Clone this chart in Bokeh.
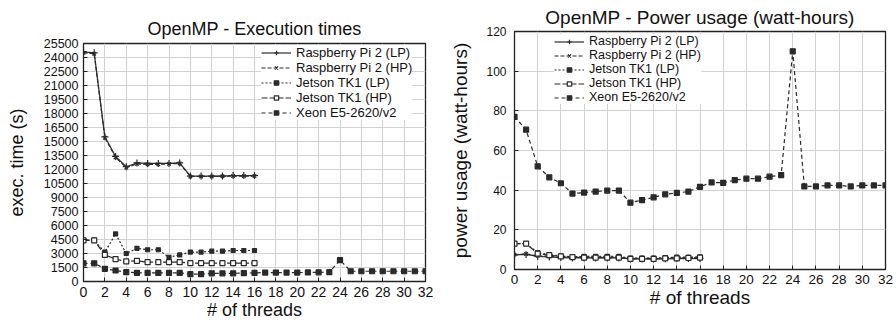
from bokeh.plotting import figure
from bokeh.layouts import row
from bokeh.models import FixedTicker, Legend, LegendItem, Range1d
from bokeh.embed import file_html
from bokeh.resources import INLINE

# ---------------- data ----------------
threads_all = list(range(0, 33))
threads_16 = list(range(0, 17))

x_ticks = list(range(0, 33, 2))
time_ticks = list(range(0, 25501, 1500))
power_ticks = list(range(0, 121, 20))

series_names = ["Raspberry Pi 2 (LP)", "Raspberry Pi 2 (HP)", "Jetson TK1 (LP)",
                "Jetson TK1 (HP)", "Xeon E5-2620/v2"]

# execution times (s)
time_rpi_lp = [24600, 24500, 15500, 13400, 12300, 12700, 12650, 12650, 12650, 12700,
               11300, 11300, 11300, 11300, 11350, 11350, 11350]
time_rpi_hp = [24500, 24400, 15400, 13300, 12200, 12600, 12550, 12550, 12600, 12650,
               11250, 11250, 11250, 11280, 11300, 11300, 11300]
time_jetson_lp = [4400, 4400, 3150, 5100, 3000, 3550, 3400, 3400, 2600, 2850,
                  3150, 3150, 3250, 3250, 3320, 3320, 3320]
time_jetson_hp = [4400, 4400, 2850, 2400, 2150, 2200, 2070, 2070, 2070, 2070,
                  1960, 1960, 1960, 1960, 1960, 1960, 1960]
time_xeon = [1950, 1950, 1360, 1180, 1000, 930, 920, 920, 920, 920, 790, 790, 880, 880,
             880, 900, 920, 960, 960, 960, 960, 970, 980, 1000, 2300, 1100, 1100, 1100,
             1100, 1100, 1100, 1100, 1100]

# power usage (watt-hours)
power_rpi_lp = [7.4, 7.6, 6.6, 6.3, 6.0, 5.8, 5.8, 5.8, 5.8, 5.8, 5.3, 5.3, 5.3, 5.4,
                5.5, 5.5, 5.6]
power_rpi_hp = [7.5, 7.8, 6.9, 6.6, 6.3, 6.1, 6.1, 6.1, 6.1, 6.1, 5.6, 5.6, 5.6, 5.7,
                5.8, 5.9, 6.0]
power_jetson_lp = [13.0, 13.0, 8.5, 7.5, 6.8, 6.4, 6.6, 6.6, 6.6, 6.6, 5.8, 5.8, 5.8,
                   6.0, 6.2, 6.2, 6.4]
power_jetson_hp = [13.0, 13.0, 8.0, 7.2, 6.6, 6.2, 6.0, 6.0, 6.0, 6.0, 5.4, 5.4, 5.4,
                   5.6, 5.6, 5.8, 6.0]
power_xeon = [77, 70.5, 52, 46.5, 43.5, 38.3, 38.8, 39.3, 39.8, 39.8, 33.7, 35.0, 36.4,
              37.9, 38.6, 39.3, 41.7, 43.9, 43.7, 45.1, 45.8, 45.8, 46.8, 47.6, 110,
              41.9, 41.9, 42.4, 42.4, 41.9, 42.4, 42.4, 42.4]

# ---------------- styling ----------------
FONT = "Liberation Sans"
LINE = "#2a2a2a"
GRID = "#d2d2d2"

styles = [
    dict(dash="solid", marker="cross", size=7, fill=LINE),
    dict(dash="4 2", marker="x", size=5, fill=LINE),
    dict(dash="2 2", marker="square", size=4, fill=LINE),
    dict(dash="6 2", marker="square", size=5, fill="white"),
    dict(dash="4 3", marker="square", size=5, fill=LINE),
]


def build(title, title_size, yticks, ymax, xs_list, ys_list, width, height, borders,
          ytick_size, xtick_size, ylab, lab_size, ystandoff, ylab_standoff,
          legend_loc, legend_font, title_standoff):
    bl, br, bt, bb = borders
    p = figure(width=width, height=height, x_range=Range1d(0, 32), y_range=Range1d(0, ymax),
               output_backend="svg", toolbar_location=None,
               min_border_left=bl, min_border_right=br, min_border_top=bt,
               min_border_bottom=bb, frame_align=False)
    p.title.text = title
    p.title.align = "center"
    p.title.text_font = FONT
    p.title.text_font_size = title_size
    p.title.text_font_style = "normal"
    p.title.text_color = "#111111"
    p.title.standoff = title_standoff

    p.outline_line_color = "#222222"
    p.outline_line_width = 1.3

    p.xaxis.ticker = FixedTicker(ticks=x_ticks)
    p.yaxis.ticker = FixedTicker(ticks=yticks)
    for ax in (p.xaxis[0], p.yaxis[0]):
        ax.major_tick_in = 4
        ax.major_tick_out = 0
        ax.minor_tick_line_color = None
        ax.axis_line_color = "#222222"
        ax.major_tick_line_color = "#222222"
        ax.major_label_text_font = FONT
        ax.major_label_text_color = "#111111"
        ax.axis_label_text_font = FONT
        ax.axis_label_text_font_style = "normal"
        ax.axis_label_text_color = "#111111"
        ax.axis_label_text_font_size = lab_size
    p.xaxis.major_label_text_font_size = xtick_size
    p.yaxis.major_label_text_font_size = ytick_size
    p.xaxis.major_label_standoff = 5
    p.yaxis.major_label_standoff = ystandoff
    p.xaxis.axis_label = "# of threads"
    p.yaxis.axis_label = ylab
    p.xaxis.axis_label_standoff = 0
    p.yaxis.axis_label_standoff = ylab_standoff

    p.xgrid.grid_line_color = GRID
    p.ygrid.grid_line_color = GRID

    items = []
    for name, st, xs, ys in zip(series_names, styles, xs_list, ys_list):
        r1 = p.line(xs, ys, line_color=LINE, line_width=1.2, line_dash=st["dash"])
        r2 = p.scatter(xs, ys, marker=st["marker"], size=st["size"], line_color=LINE,
                       fill_color=st["fill"], line_width=1.2)
        items.append(LegendItem(label=name, renderers=[r1, r2]))

    legend = Legend(items=items, location=legend_loc, border_line_color=None,
                    background_fill_color="white", background_fill_alpha=1.0,
                    label_text_font=FONT, label_text_font_size=legend_font,
                    label_text_color="#111111", label_text_line_height=0.85,
                    glyph_width=30, glyph_height=11, label_height=11, spacing=0,
                    padding=2, label_standoff=5, margin=0)
    p.add_layout(legend)
    return p


p1 = build("OpenMP - Execution times", "18px", time_ticks, 25500,
           [threads_16, threads_16, threads_16, threads_16, threads_all],
           [time_rpi_lp, time_rpi_hp, time_jetson_lp, time_jetson_hp, time_xeon],
           447, 322, (83, 22, 43, 40), "12.5px", "14px", "exec. time (s)", "18px", 5, 14,
           (178, 161), "13px", 10)

p2 = build("OpenMP - Power usage (watt-hours)", "19px", power_ticks, 120,
           [threads_16, threads_16, threads_16, threads_16, threads_all],
           [power_rpi_lp, power_rpi_hp, power_jetson_lp, power_jetson_hp, power_xeon],
           447, 322, (63, 9, 31, 53), "12px", "13.5px", "power usage (watt-hours)", "19px",
           8, 12, (40, 165), "12.5px", 8)

layout = row(p1, p2)
open("out.html", "w").write(file_html(layout, INLINE))
